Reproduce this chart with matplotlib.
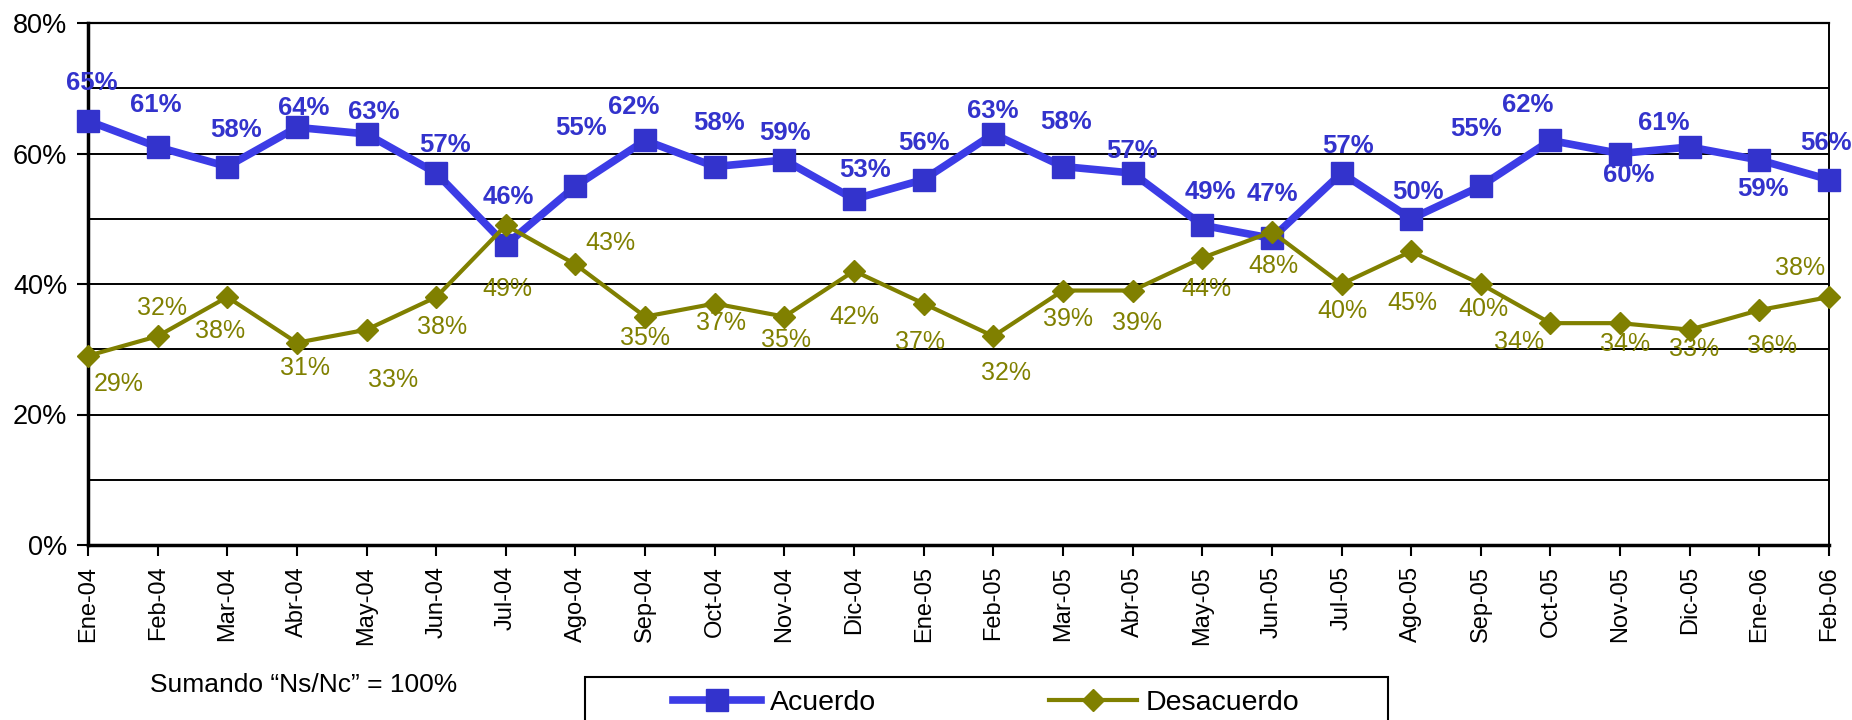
import matplotlib
matplotlib.use('Agg')
import matplotlib.pyplot as plt
from matplotlib.patches import Rectangle

plt.rcParams['font.family'] = ['Liberation Sans', 'DejaVu Sans']

months = ['Ene-04', 'Feb-04', 'Mar-04', 'Abr-04', 'May-04', 'Jun-04', 'Jul-04',
          'Ago-04', 'Sep-04', 'Oct-04', 'Nov-04', 'Dic-04', 'Ene-05', 'Feb-05',
          'Mar-05', 'Abr-05', 'May-05', 'Jun-05', 'Jul-05', 'Ago-05', 'Sep-05',
          'Oct-05', 'Nov-05', 'Dic-05', 'Ene-06', 'Feb-06']
acuerdo = [65, 61, 58, 64, 63, 57, 46, 55, 62, 58, 59, 53, 56, 63, 58, 57,
           49, 47, 57, 50, 55, 62, 60, 61, 59, 56]
desacuerdo = [29, 32, 38, 31, 33, 38, 49, 43, 35, 37, 35, 42, 37, 32, 39, 39,
              44, 48, 40, 45, 40, 34, 34, 33, 36, 38]
y_ticks = [0, 20, 40, 60, 80]
y_minor = [10, 30, 50, 70]

# label offsets (pixels, x right / y down) relative to each point
acuerdo_lbl = [(4, -38), (-2, -42), (9, -37), (7, -19), (7, -22), (9, -28),
               (2, -48), (6, -58), (-11, -33), (4, -44), (1, -27), (11, -29),
               (0, -37), (-1, -23), (3, -45), (-1, -22), (8, -33), (0, -44),
               (6, -27), (7, -27), (-5, -57), (-23, -35), (9, 22), (-26, -24),
               (4, 29), (-3, -37)]
desacuerdo_lbl = [(31, 28), (4, -28), (-7, 34), (8, 25), (27, 50), (6, 30),
                  (2, 64), (35, -21), (0, 21), (6, 19), (2, 23), (0, 46),
                  (-4, 38), (13, 37), (5, 28), (4, 32), (4, 31), (2, 34),
                  (1, 27), (1, 52), (3, 25), (-31, 19), (5, 21), (4, 19),
                  (13, 36), (-29, -29)]

BLUE = '#3333CC'
BLUE_LINE = '#3C3CE6'
OLIVE = '#808000'

W, H = 1852, 720
fig = plt.figure(figsize=(W / 100, H / 100), dpi=100)
ax = fig.add_axes([88 / W, 1 - 545 / H, (1829 - 88) / W, (545 - 23) / H])

x = list(range(len(months)))
l1, = ax.plot(x, acuerdo, color=BLUE_LINE, lw=5.5, marker='s', ms=16.5,
              mfc=BLUE, mec=BLUE, zorder=3, clip_on=False, label='Acuerdo')
l2, = ax.plot(x, desacuerdo, color=OLIVE, lw=3, marker='D', ms=11,
              mfc=OLIVE, mec=OLIVE, zorder=4, clip_on=False, label='Desacuerdo')

for xi, v, (dx, dy) in zip(x, acuerdo, acuerdo_lbl):
    ax.annotate(f'{v}%', (xi, v), xytext=(dx, -dy), textcoords='offset pixels',
                ha='center', va='center', color=BLUE, fontsize=18.5,
                fontweight='bold', zorder=6, annotation_clip=False)
for xi, v, (dx, dy) in zip(x, desacuerdo, desacuerdo_lbl):
    ax.annotate(f'{v}%', (xi, v), xytext=(dx, -dy), textcoords='offset pixels',
                ha='center', va='center', color=OLIVE, fontsize=18,
                zorder=6, annotation_clip=False)

ax.set_xlim(0, len(months) - 1)
ax.set_ylim(0, 80)
ax.set_yticks(y_ticks)
ax.set_yticklabels([f'{t}%' for t in y_ticks])
ax.set_yticks(y_minor, minor=True)
ax.set_xticks(x)
ax.set_xticklabels(months, rotation=90, ha='center', va='top')
ax.grid(axis='y', which='both', color='black', lw=1.4, zorder=1)
ax.set_axisbelow(True)
ax.tick_params(axis='y', which='major', direction='out', length=8, width=1.5,
               labelsize=19.5, pad=7)
ax.tick_params(axis='y', which='minor', length=0)
ax.tick_params(axis='x', direction='out', length=8, width=1.5,
               labelsize=17, pad=7)
ax.spines['left'].set_linewidth(2.5)
ax.spines['bottom'].set_linewidth(2.5)
ax.spines['top'].set_linewidth(1.6)
ax.spines['right'].set_linewidth(1.4)

fig.text(150 / W, 1 - 685 / H, 'Sumando \u201cNs/Nc\u201d = 100%', fontsize=19,
         ha='left', va='center')

# legend frame
fig.add_artist(Rectangle((585 / W, -0.05), (1388 - 585) / W, 0.05 + (1 - 677 / H),
                         transform=fig.transFigure, fill=False, ec='black', lw=1.5))
fig.legend(handles=[l1], loc='center left', bbox_to_anchor=(673 / W, 1 - 703 / H),
           frameon=False, borderpad=0, borderaxespad=0, fontsize=20.5,
           handlelength=3.1, handletextpad=0.3)
fig.legend(handles=[l2], loc='center left', bbox_to_anchor=(1049 / W, 1 - 703 / H),
           frameon=False, borderpad=0, borderaxespad=0, fontsize=20.5,
           handlelength=3.1, handletextpad=0.3)

fig.savefig('out.png', dpi=100)
